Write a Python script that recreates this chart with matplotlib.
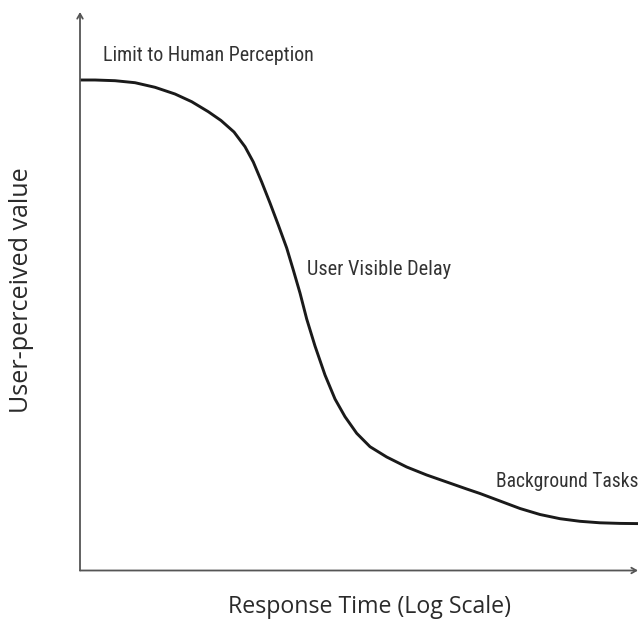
import matplotlib
matplotlib.use("Agg")
import matplotlib.pyplot as plt
from matplotlib import font_manager

# Data (arbitrary units; log response time vs value)
response_time = [0, 15, 35, 55, 75, 95, 111.7, 128.3, 141, 154, 165, 173.3, 181.7,
                 190, 198.3, 206.7, 213.3, 220, 226.7, 235, 245, 255, 265, 276.7,
                 290, 306.7, 326.7, 346.7, 366.7, 386.7, 400, 420, 440, 460, 480,
                 500, 520, 540, 558]
perceived_value = [490.5, 490.5, 489.8, 487.8, 483.2, 476.5, 468.8, 458.8, 450,
                   438.5, 423.8, 408.5, 388.5, 367.5, 345.5, 322.5, 300.5, 277.5,
                   251.5, 224.5, 195.5, 171.5, 153.8, 137.2, 123.8, 113.5, 103.5,
                   95.5, 88.5, 81.5, 77, 69.5, 62, 56, 51.8, 49.2, 47.7, 47.1, 46.9]
annotations = ["Limit to Human Perception", "User Visible Delay", "Background Tasks"]
x_label = "Response Time (Log Scale)"
y_label = "User-perceived value"

ttf = font_manager.fontManager.ttflist
names = {f.name for f in ttf}
stretch = "normal"
if "Liberation Sans Narrow" in names:
    narrow = "Liberation Sans Narrow"
elif "Roboto Condensed" in names:
    narrow = "Roboto Condensed"
elif any(f.name == "DejaVu Sans" and "Condensed" in f.fname for f in ttf):
    narrow = "DejaVu Sans"
    stretch = "condensed"
elif "Roboto" in names:
    narrow = "Roboto"
else:
    narrow = "DejaVu Sans"
label_font = "Open Sans" if "Open Sans" in names else "DejaVu Sans"

W, H = 640, 624
fig = plt.figure(figsize=(W / 100, H / 100), dpi=100)
left, right, bottom, top = 80, 638, 570.5, 12
ax = fig.add_axes([left / W, 1 - bottom / H, (right - left) / W, (bottom - top) / H])
ax.set_xlim(0, right - left)
ax.set_ylim(0, bottom - top)
for s in ax.spines.values():
    s.set_visible(False)
ax.set_xticks([])
ax.set_yticks([])
ax.patch.set_alpha(0)

axis_color = "#555555"
arrow = dict(arrowstyle="->,head_length=0.35,head_width=0.2", color=axis_color,
             lw=1.3, shrinkA=0, shrinkB=0)
ax.annotate("", xy=(0, 1), xytext=(0, 0), xycoords="axes fraction",
            textcoords="axes fraction", arrowprops=arrow)
ax.annotate("", xy=(1, 0), xytext=(0, 0), xycoords="axes fraction",
            textcoords="axes fraction", arrowprops=arrow)

ax.plot(response_time, perceived_value, color="#1a1a1a", lw=2.1,
        solid_capstyle="butt", solid_joinstyle="round", clip_on=False)

tkw = dict(fontsize=12.5, color="#333333", family=narrow, fontstretch=stretch,
           va="baseline", clip_on=False)
t1 = ax.text(23, 509.5, annotations[0], ha="left", **tkw)
t2 = ax.text(227, 295.5, annotations[1], ha="left", **tkw)
t3 = ax.text(558, 83.5, annotations[2], ha="right", **tkw)

xl = fig.text(370 / W, 1 - 607 / H, x_label, ha="center", va="center",
              fontsize=16.5, family=label_font, color="#2a2a2a")
yl = fig.text(22 / W, 1 - 290 / H, y_label, ha="center", va="center", rotation=90,
              fontsize=16.5, family=label_font, color="#2a2a2a")

# fit text sizes to the widths measured on the reference (pixels)
fig.canvas.draw()
r = fig.canvas.get_renderer()
for t, target, vertical in [(t1, 212, False), (t2, 145, False), (t3, 143, False),
                            (xl, 284, False), (yl, 246, True)]:
    bb = t.get_window_extent(r)
    cur = bb.height if vertical else bb.width
    if cur > 0:
        t.set_fontsize(t.get_fontsize() * target / cur)

fig.savefig("out.png", dpi=100, facecolor="white")
